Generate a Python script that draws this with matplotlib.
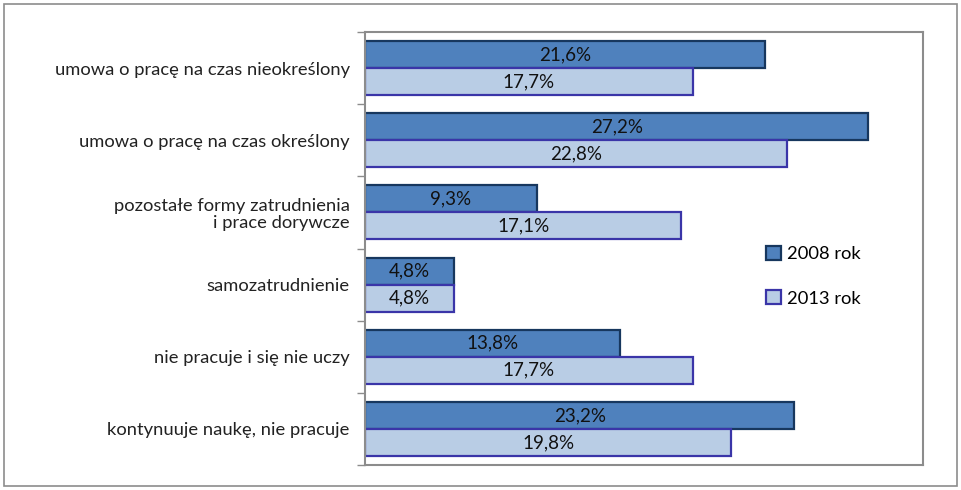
import matplotlib.pyplot as plt
import matplotlib.patches as mpatches
import numpy as np

# ── data ─────────────────────────────────────────────────────────────────
categories = [
    "umowa o pracę na czas nieokreślony",
    "umowa o pracę na czas określony",
    "pozostałe formy zatrudnienia\ni prace dorywcze",
    "samozatrudnienie",
    "nie pracuje i się nie uczy",
    "kontynuuje naukę, nie pracuje",
]
values_2008 = [21.6, 27.2, 9.3, 4.8, 13.8, 23.2]
values_2013 = [17.7, 22.8, 17.1, 4.8, 17.7, 19.8]
series_labels = ["2008 rok", "2013 rok"]

# ── palette ──────────────────────────────────────────────────────────────
DARK_FILL = "#4F81BD"
DARK_EDGE = "#17375E"
LIGHT_FILL = "#B9CDE5"
LIGHT_EDGE = "#3A35A8"
FRAME = "#8C8C8C"

plt.rcParams["font.family"] = ["Lato", "DejaVu Sans"]

fig = plt.figure(figsize=(9.62, 4.90), dpi=100)
ax = fig.add_axes([0.3794, 0.051, 0.580, 0.8837])

# outer frame round the whole chart
fig.patches.append(
    mpatches.Rectangle(
        (4 / 962, 4 / 490), 953 / 962, 482 / 490,
        transform=fig.transFigure, fill=False, edgecolor=FRAME, lw=1.2,
    )
)

y = np.arange(len(categories))
h = 0.375

bars_a = ax.barh(y - h / 2, values_2008, height=h, color=DARK_FILL,
                 edgecolor=DARK_EDGE, lw=1.6, label=series_labels[0])
bars_b = ax.barh(y + h / 2, values_2013, height=h, color=LIGHT_FILL,
                 edgecolor=LIGHT_EDGE, lw=1.6, label=series_labels[1])

for bars, vals in ((bars_a, values_2008), (bars_b, values_2013)):
    for rect, v in zip(bars, vals):
        ax.text(rect.get_x() + rect.get_width() / 2,
                rect.get_y() + rect.get_height() / 2,
                f"{v:.1f}%".replace(".", ","),
                ha="center", va="center", fontsize=13.5, color="#111111")

ax.set_xlim(0, 30.15)
ax.set_ylim(len(categories) - 0.5, -0.5)
ax.set_xticks([])
ax.set_yticks(y)
ax.set_yticklabels(categories, fontsize=13.2, color="#222222",
                   ha="right", multialignment="right", linespacing=1.05)
ax.tick_params(axis="y", which="major", length=0, pad=11)
ax.set_yticks(np.arange(len(categories) + 1) - 0.5, minor=True)
ax.tick_params(axis="y", which="minor", length=6, color=FRAME, width=1)

for s in ax.spines.values():
    s.set_color(FRAME)
    s.set_linewidth(1.5)

ax.legend(loc="upper left", bbox_to_anchor=(0.69, 0.545), frameon=False,
          fontsize=13.2, handlelength=0.8, handleheight=0.8,
          handletextpad=0.3, labelspacing=1.55)

fig.savefig("out.png", dpi=100)
